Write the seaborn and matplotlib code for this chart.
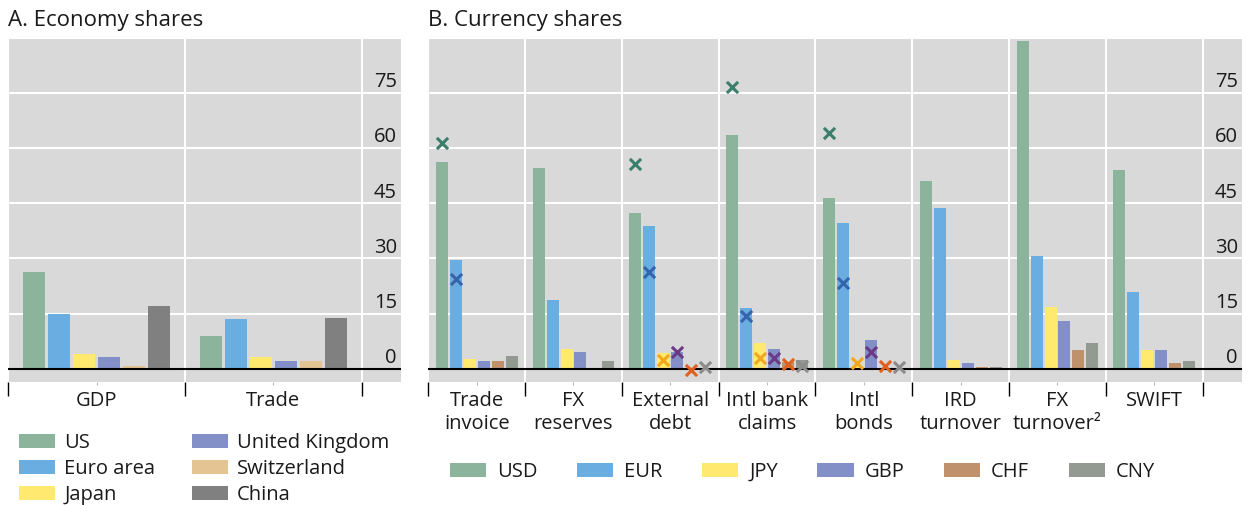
import matplotlib
matplotlib.use("Agg")
import matplotlib.pyplot as plt
import seaborn as sns
import pandas as pd
import numpy as np

# Panel A: economy shares (%)
economies = ["US", "Euro area", "Japan", "United Kingdom", "Switzerland", "China"]
economy_colors = ["#8cb39b", "#6aade1", "#ffe96f", "#8390c7", "#e3c492", "#808080"]
gdp_share = [26.3, 14.8, 4.0, 3.1, 0.9, 17.0]
trade_share = [8.8, 13.5, 3.1, 2.0, 2.0, 13.7]

# Panel B: currency shares (%)
currencies = ["USD", "EUR", "JPY", "GBP", "CHF", "CNY"]
currency_colors = ["#8cb39b", "#6aade1", "#ffe96f", "#8390c7", "#c0916d", "#929a92"]
marker_colors = ["#3a7f6a", "#3465ac", "#f2a81c", "#6b3a86", "#e0601e", "#8c8c8c"]
measures = ["Trade\ninvoice", "FX\nreserves", "External\ndebt", "Intl bank\nclaims",
            "Intl\nbonds", "IRD\nturnover", "FX\nturnover²", "SWIFT"]
trade_invoice = [56.3, 29.5, 2.8, 2.0, 2.0, 3.6]
fx_reserves = [54.6, 18.6, 5.3, 4.5, 0.2, 2.0]
external_debt = [42.4, 38.8, 4.2, 4.7, 0.0, 0.0]
intl_bank_claims = [63.6, 16.5, 6.9, 5.5, 1.8, 2.4]
intl_bonds = [46.5, 39.6, 0.8, 7.7, 0.0, 0.0]
ird_turnover = [51.1, 43.7, 2.3, 1.7, 0.4, 0.6]
fx_turnover = [89.0, 30.6, 16.7, 12.9, 5.0, 6.9]
swift = [54.1, 20.8, 5.0, 5.0, 1.7, 2.0]

# cross markers (None = no marker)
trade_invoice_x = [61.5, 24.4, None, None, None, None]
external_debt_x = [55.8, 26.2, 2.4, 4.5, -0.2, 0.5]
intl_bank_claims_x = [76.5, 14.4, 3.0, 3.0, 1.4, 0.9]
intl_bonds_x = [64.2, 23.4, 1.5, 4.6, 0.9, 0.6]

df_a = pd.DataFrame({
    "measure": ["GDP"] * 6 + ["Trade"] * 6,
    "economy": economies * 2,
    "value": gdp_share + trade_share,
})
b_values = [trade_invoice, fx_reserves, external_debt, intl_bank_claims,
            intl_bonds, ird_turnover, fx_turnover, swift]
df_b = pd.DataFrame({
    "measure": [m for m in measures for _ in currencies],
    "currency": currencies * len(measures),
    "value": [v for vals in b_values for v in vals],
})
b_markers = {0: trade_invoice_x, 2: external_debt_x, 3: intl_bank_claims_x, 4: intl_bonds_x}

sns.set_style("darkgrid", {"axes.facecolor": "#d9d9d9", "grid.color": "white"})
plt.rcParams["font.family"] = ["Open Sans", "DejaVu Sans"]
plt.rcParams["text.color"] = "#1a1a1a"
plt.rcParams["xtick.color"] = "#1a1a1a"
FS = 14.5

fig = plt.figure(figsize=(12.54, 5.05), dpi=100)
bottom, height = 1 - 381.7 / 505, (381.7 - 37.7) / 505
ax_a = fig.add_axes([8.3 / 1254, bottom, (401 - 8.3) / 1254, height])
ax_b = fig.add_axes([428.3 / 1254, bottom, (1242 - 428.3) / 1254, height])


def style_axis(ax, n_cats, right_pad):
    ax.set_xlim(-0.5, n_cats - 0.5 + right_pad)
    ax.set_ylim(-3.5, 90)
    ax.set_yticks(range(0, 91, 15))
    ax.set_yticklabels([])
    ax.tick_params(axis="y", length=0)
    ax.set_xticks(np.arange(n_cats + 1) - 0.5, minor=True)
    ax.grid(False, axis="x", which="major")
    ax.grid(True, axis="x", which="minor", color="white", lw=1.5)
    ax.grid(True, axis="y", which="major", color="white", lw=1.5)
    ax.tick_params(axis="x", which="minor", direction="out", length=10, width=1,
                   color="black", bottom=True)
    ax.tick_params(axis="x", which="major", length=2, color="#bbbbbb", pad=5,
                   labelsize=FS, bottom=True)
    ax.axhline(0, color="black", lw=1.5, zorder=4)
    for sp in ax.spines.values():
        sp.set_visible(False)
    ax.set_xlabel("")
    ax.set_ylabel("")
    for v in range(0, 76, 15):
        ax.annotate(str(v), xy=(1, v), xycoords=ax.get_yaxis_transform(),
                    xytext=(-3, 0.5), textcoords="offset points",
                    ha="right", va="bottom", fontsize=FS)


sns.barplot(data=df_a, x="measure", y="value", hue="economy", palette=economy_colors,
            width=0.85, gap=0.12, saturation=1, linewidth=0, ax=ax_a)
style_axis(ax_a, 2, 0.222)

sns.barplot(data=df_b, x="measure", y="value", hue="currency", palette=currency_colors,
            width=0.866, gap=0.14, saturation=1, linewidth=0, ax=ax_b)
style_axis(ax_b, len(measures), 0.406)

# put the crosses on the bar centres
bars = sorted([p for c in ax_b.containers for p in c], key=lambda p: p.get_x())
centers = [p.get_x() + p.get_width() / 2 for p in bars]
for m, vals in b_markers.items():
    for h, v in enumerate(vals):
        if v is None:
            continue
        ax_b.scatter(centers[m * 6 + h], v, marker="x", color=marker_colors[h],
                     s=65, linewidths=2.2, zorder=6)

sns.move_legend(ax_a, "upper left", bbox_to_anchor=(19 / 1254, 1 - 433 / 505),
                bbox_transform=fig.transFigure, ncol=2, frameon=False, title=None,
                fontsize=FS, borderpad=0, borderaxespad=0, handlelength=1.8,
                handleheight=0.75, handletextpad=0.45, columnspacing=1.8, labelspacing=0.3)
sns.move_legend(ax_b, "upper left", bbox_to_anchor=(450 / 1254, 1 - 462 / 505),
                bbox_transform=fig.transFigure, ncol=6, frameon=False, title=None,
                fontsize=FS, borderpad=0, borderaxespad=0, handlelength=1.8,
                handleheight=0.75, handletextpad=0.55, columnspacing=1.95)

fig.text(8.3 / 1254, 1 - 26 / 505, "A. Economy shares", fontsize=16, va="baseline")
fig.text(428.3 / 1254, 1 - 26 / 505, "B. Currency shares", fontsize=16, va="baseline")

fig.savefig("out.png", dpi=100)
